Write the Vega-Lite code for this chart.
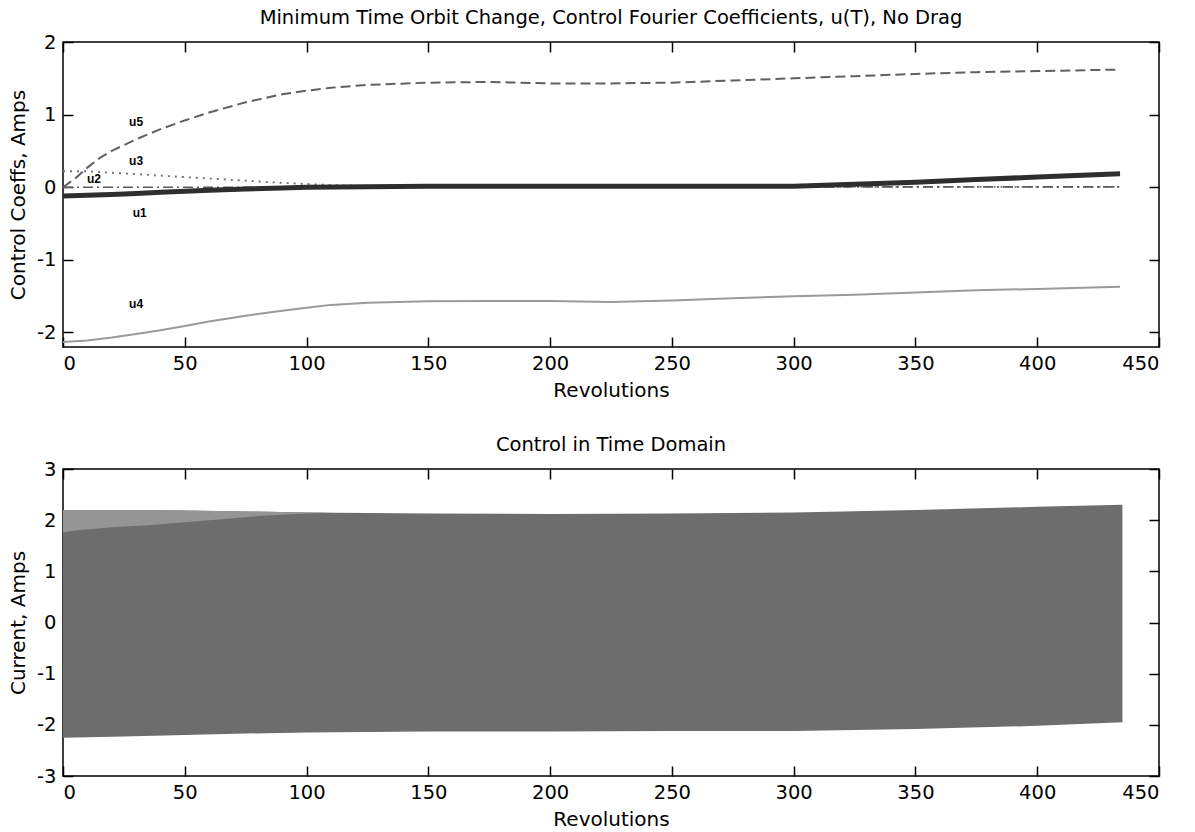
{
  "$schema": "https://vega.github.io/schema/vega-lite/v6.json",
  "background": "white",
  "padding": {"left": 7, "top": 6, "right": 5, "bottom": 5},
  "spacing": 31,
  "config": {
    "font": "DejaVu Sans",
    "view": {"stroke": "black", "strokeWidth": 1.5},
    "axis": {
      "domain": false, "grid": false, "tickColor": "black", "tickSize": -10, "tickWidth": 1.5,
      "labelFont": "DejaVu Sans", "labelFontSize": 19.5, "labelColor": "black", "labelPadding": 17,
      "labelExpr": "replace(datum.label, '\u2212', '-')",
      "titleFont": "DejaVu Sans", "titleFontSize": 20, "titleFontWeight": "normal", "titleColor": "black", "titlePadding": 8
    },
    "axisLeft": {"titlePadding": 8},
    "title": {"font": "DejaVu Sans", "fontSize": 19.5, "fontWeight": "normal", "color": "black", "offset": 4}
  },
  "datasets": {
    "coeffs": [
      {"rev": 0, "s": "u1", "v": -0.12}, {"rev": 10, "s": "u1", "v": -0.11}, {"rev": 20, "s": "u1", "v": -0.1}, {"rev": 30, "s": "u1", "v": -0.085}, {"rev": 40, "s": "u1", "v": -0.07}, {"rev": 50, "s": "u1", "v": -0.055}, {"rev": 60, "s": "u1", "v": -0.04}, {"rev": 75, "s": "u1", "v": -0.025}, {"rev": 90, "s": "u1", "v": -0.01}, {"rev": 100, "s": "u1", "v": 0.0}, {"rev": 125, "s": "u1", "v": 0.008}, {"rev": 150, "s": "u1", "v": 0.012}, {"rev": 200, "s": "u1", "v": 0.012}, {"rev": 250, "s": "u1", "v": 0.012}, {"rev": 300, "s": "u1", "v": 0.015}, {"rev": 325, "s": "u1", "v": 0.04}, {"rev": 350, "s": "u1", "v": 0.07}, {"rev": 375, "s": "u1", "v": 0.105}, {"rev": 400, "s": "u1", "v": 0.14}, {"rev": 434, "s": "u1", "v": 0.185},
      {"rev": 0, "s": "u2", "v": 0.0}, {"rev": 100, "s": "u2", "v": 0.0}, {"rev": 200, "s": "u2", "v": 0.0}, {"rev": 300, "s": "u2", "v": 0.005}, {"rev": 400, "s": "u2", "v": 0.005}, {"rev": 434, "s": "u2", "v": 0.005},
      {"rev": 0, "s": "u3", "v": 0.22}, {"rev": 10, "s": "u3", "v": 0.22}, {"rev": 20, "s": "u3", "v": 0.2}, {"rev": 30, "s": "u3", "v": 0.18}, {"rev": 40, "s": "u3", "v": 0.16}, {"rev": 50, "s": "u3", "v": 0.14}, {"rev": 60, "s": "u3", "v": 0.12}, {"rev": 75, "s": "u3", "v": 0.09}, {"rev": 90, "s": "u3", "v": 0.06}, {"rev": 100, "s": "u3", "v": 0.045}, {"rev": 110, "s": "u3", "v": 0.03}, {"rev": 125, "s": "u3", "v": 0.02}, {"rev": 150, "s": "u3", "v": 0.01}, {"rev": 200, "s": "u3", "v": 0.005}, {"rev": 300, "s": "u3", "v": 0.005}, {"rev": 434, "s": "u3", "v": 0.005},
      {"rev": 0, "s": "u4", "v": -2.13}, {"rev": 10, "s": "u4", "v": -2.11}, {"rev": 20, "s": "u4", "v": -2.07}, {"rev": 30, "s": "u4", "v": -2.02}, {"rev": 40, "s": "u4", "v": -1.97}, {"rev": 50, "s": "u4", "v": -1.91}, {"rev": 60, "s": "u4", "v": -1.85}, {"rev": 75, "s": "u4", "v": -1.77}, {"rev": 90, "s": "u4", "v": -1.7}, {"rev": 100, "s": "u4", "v": -1.66}, {"rev": 110, "s": "u4", "v": -1.62}, {"rev": 125, "s": "u4", "v": -1.59}, {"rev": 150, "s": "u4", "v": -1.57}, {"rev": 175, "s": "u4", "v": -1.565}, {"rev": 200, "s": "u4", "v": -1.565}, {"rev": 225, "s": "u4", "v": -1.58}, {"rev": 250, "s": "u4", "v": -1.56}, {"rev": 275, "s": "u4", "v": -1.53}, {"rev": 300, "s": "u4", "v": -1.5}, {"rev": 325, "s": "u4", "v": -1.48}, {"rev": 350, "s": "u4", "v": -1.45}, {"rev": 375, "s": "u4", "v": -1.42}, {"rev": 400, "s": "u4", "v": -1.4}, {"rev": 434, "s": "u4", "v": -1.37},
      {"rev": 0, "s": "u5", "v": 0.0}, {"rev": 5, "s": "u5", "v": 0.12}, {"rev": 10, "s": "u5", "v": 0.27}, {"rev": 15, "s": "u5", "v": 0.4}, {"rev": 20, "s": "u5", "v": 0.5}, {"rev": 30, "s": "u5", "v": 0.66}, {"rev": 40, "s": "u5", "v": 0.8}, {"rev": 50, "s": "u5", "v": 0.92}, {"rev": 60, "s": "u5", "v": 1.03}, {"rev": 75, "s": "u5", "v": 1.17}, {"rev": 90, "s": "u5", "v": 1.28}, {"rev": 100, "s": "u5", "v": 1.33}, {"rev": 110, "s": "u5", "v": 1.37}, {"rev": 125, "s": "u5", "v": 1.41}, {"rev": 150, "s": "u5", "v": 1.44}, {"rev": 175, "s": "u5", "v": 1.45}, {"rev": 200, "s": "u5", "v": 1.43}, {"rev": 225, "s": "u5", "v": 1.43}, {"rev": 250, "s": "u5", "v": 1.44}, {"rev": 275, "s": "u5", "v": 1.47}, {"rev": 300, "s": "u5", "v": 1.5}, {"rev": 325, "s": "u5", "v": 1.53}, {"rev": 350, "s": "u5", "v": 1.56}, {"rev": 375, "s": "u5", "v": 1.585}, {"rev": 400, "s": "u5", "v": 1.6}, {"rev": 434, "s": "u5", "v": 1.62}
    ],
    "labels": [
      {"rev": 30, "v": 0.9, "label": "u5"},
      {"rev": 30, "v": 0.36, "label": "u3"},
      {"rev": 12.7, "v": 0.12, "label": "u2"},
      {"rev": 31.5, "v": -0.36, "label": "u1"},
      {"rev": 30, "v": -1.61, "label": "u4"}
    ],
    "band": [
      {"rev": 0, "hi": 2.2, "lo": -2.25}, {"rev": 25, "hi": 2.2, "lo": -2.23}, {"rev": 50, "hi": 2.19, "lo": -2.2}, {"rev": 75, "hi": 2.17, "lo": -2.17}, {"rev": 100, "hi": 2.15, "lo": -2.15}, {"rev": 150, "hi": 2.13, "lo": -2.13}, {"rev": 200, "hi": 2.12, "lo": -2.13}, {"rev": 250, "hi": 2.13, "lo": -2.12}, {"rev": 300, "hi": 2.15, "lo": -2.12}, {"rev": 350, "hi": 2.2, "lo": -2.08}, {"rev": 400, "hi": 2.26, "lo": -2.02}, {"rev": 435, "hi": 2.3, "lo": -1.95}
    ],
    "strip": [
      {"rev": 0, "hi": 2.2, "inner": 1.76}, {"rev": 5, "hi": 2.2, "inner": 1.8}, {"rev": 20, "hi": 2.2, "inner": 1.86}, {"rev": 35, "hi": 2.2, "inner": 1.9}, {"rev": 50, "hi": 2.19, "inner": 1.96}, {"rev": 65, "hi": 2.18, "inner": 2.02}, {"rev": 80, "hi": 2.17, "inner": 2.08}, {"rev": 100, "hi": 2.15, "inner": 2.13}, {"rev": 110, "hi": 2.145, "inner": 2.145}
    ]
  },
  "vconcat": [
    {
      "title": "Minimum Time Orbit Change, Control Fourier Coefficients, u(T), No Drag",
      "width": 1096, "height": 305,
      "resolve": {"axis": {"x": "independent", "y": "independent"}},
      "layer": [
        {
          "data": {"name": "coeffs"},
          "transform": [{"filter": "datum.s == 'u4'"}],
          "mark": {"type": "line", "color": "#9a9a9a", "strokeWidth": 2},
          "encoding": {
            "x": {"field": "rev", "type": "quantitative", "scale": {"domain": [0, 450], "nice": false}, "axis": {"title": "Revolutions", "values": [0, 50, 100, 150, 200, 250, 300, 350, 400, 450]}},
            "y": {"field": "v", "type": "quantitative", "scale": {"domain": [-2.2, 2], "nice": false, "zero": false}, "axis": {"title": "Control Coeffs, Amps", "values": [-2, -1, 0, 1, 2]}}
          }
        },
        {
          "data": {"name": "coeffs"},
          "transform": [{"filter": "datum.s == 'u5'"}],
          "mark": {"type": "line", "color": "#606060", "strokeWidth": 2, "strokeDash": [10, 5]},
          "encoding": {
            "x": {"field": "rev", "type": "quantitative", "axis": null},
            "y": {"field": "v", "type": "quantitative", "axis": null}
          }
        },
        {
          "data": {"name": "coeffs"},
          "transform": [{"filter": "datum.s == 'u3'"}],
          "mark": {"type": "line", "color": "#707070", "strokeWidth": 1.8, "strokeDash": [2, 5]},
          "encoding": {
            "x": {"field": "rev", "type": "quantitative", "axis": null},
            "y": {"field": "v", "type": "quantitative", "axis": null}
          }
        },
        {
          "data": {"name": "coeffs"},
          "transform": [{"filter": "datum.s == 'u2'"}],
          "mark": {"type": "line", "color": "#5a5a5a", "strokeWidth": 1.6, "strokeDash": [10, 4, 2, 4]},
          "encoding": {
            "x": {"field": "rev", "type": "quantitative", "axis": null},
            "y": {"field": "v", "type": "quantitative", "axis": null}
          }
        },
        {
          "data": {"name": "coeffs"},
          "transform": [{"filter": "datum.s == 'u1'"}],
          "mark": {"type": "line", "color": "#2e2e2e", "strokeWidth": 5},
          "encoding": {
            "x": {"field": "rev", "type": "quantitative", "axis": null},
            "y": {"field": "v", "type": "quantitative", "axis": null}
          }
        },
        {
          "data": {"name": "labels"},
          "mark": {"type": "text", "font": "Liberation Sans", "fontSize": 12, "fontWeight": "bold", "color": "black", "align": "center", "baseline": "middle"},
          "encoding": {
            "x": {"field": "rev", "type": "quantitative", "axis": null},
            "y": {"field": "v", "type": "quantitative", "axis": null},
            "text": {"field": "label"}
          }
        },
        {
          "data": {"name": "labels"},
          "mark": {"type": "point", "opacity": 0},
          "encoding": {
            "x": {"field": "rev", "type": "quantitative", "axis": {"orient": "top", "labels": false, "title": null, "values": [0, 50, 100, 150, 200, 250, 300, 350, 400, 450]}},
            "y": {"field": "v", "type": "quantitative", "axis": {"orient": "right", "labels": false, "title": null, "values": [-2, -1, 0, 1, 2]}}
          }
        }
      ]
    },
    {
      "title": "Control in Time Domain",
      "width": 1096, "height": 307,
      "resolve": {"axis": {"x": "independent", "y": "independent"}},
      "layer": [
        {
          "data": {"name": "band"},
          "mark": {"type": "area", "color": "#6d6d6d", "opacity": 1},
          "encoding": {
            "x": {"field": "rev", "type": "quantitative", "scale": {"domain": [0, 450], "nice": false}, "axis": {"title": "Revolutions", "values": [0, 50, 100, 150, 200, 250, 300, 350, 400, 450]}},
            "y": {"field": "hi", "type": "quantitative", "scale": {"domain": [-3, 3], "nice": false}, "axis": {"title": "Current, Amps", "values": [-3, -2, -1, 0, 1, 2, 3]}},
            "y2": {"field": "lo"}
          }
        },
        {
          "data": {"name": "strip"},
          "mark": {"type": "area", "color": "#959595", "opacity": 1},
          "encoding": {
            "x": {"field": "rev", "type": "quantitative", "axis": null},
            "y": {"field": "hi", "type": "quantitative", "axis": null},
            "y2": {"field": "inner"}
          }
        },
        {
          "data": {"name": "band"},
          "mark": {"type": "point", "opacity": 0},
          "encoding": {
            "x": {"field": "rev", "type": "quantitative", "axis": {"orient": "top", "labels": false, "title": null, "values": [0, 50, 100, 150, 200, 250, 300, 350, 400, 450]}},
            "y": {"field": "hi", "type": "quantitative", "axis": {"orient": "right", "labels": false, "title": null, "values": [-3, -2, -1, 0, 1, 2, 3]}}
          }
        }
      ]
    }
  ]
}
